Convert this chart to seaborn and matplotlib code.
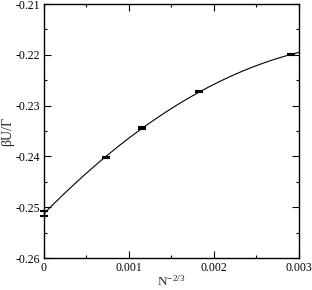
import numpy as np
import pandas as pd
import matplotlib
matplotlib.use("Agg")
import matplotlib.pyplot as plt
import seaborn as sns
from matplotlib.ticker import MultipleLocator

# data: x = N^(-2/3), y = beta U / Gamma
x_vals = [0.0, 0.000725, 0.001151, 0.001828, 0.002902]
y_vals = [-0.2512, -0.2402, -0.2344, -0.2273, -0.21995]
y_err = [0.0005, 0.00015, 0.00012, 0.0001, 0.0001]

x_ticks = [0.0, 0.001, 0.002, 0.003]
x_labels = ["0", "0.001", "0.002", "0.003"]
y_ticks = [-0.26, -0.25, -0.24, -0.23, -0.22, -0.21]
y_labels = ["-0.26", "-0.25", "-0.24", "-0.23", "-0.22", "-0.21"]

data = pd.DataFrame({"x": x_vals, "y": y_vals, "err": y_err})

sns.set_style("ticks")
plt.rcParams["font.family"] = ["Liberation Serif", "DejaVu Serif"]
plt.rcParams["mathtext.fontset"] = "stix"

fig = plt.figure(figsize=(3.12, 2.90), dpi=100)
ax = fig.add_axes([0.141, 0.110, 0.817, 0.876])
ax.set_xlim(0, 0.003)
ax.set_ylim(-0.26, -0.21)

# quadratic fit through the points, drawn over the full x range
sns.regplot(data=data, x="x", y="y", order=2, ci=None, scatter=False,
            truncate=False, ax=ax, line_kws={"color": "black", "lw": 0.8})

ax.errorbar(data["x"], data["y"], yerr=data["err"], fmt="none",
            ecolor="black", elinewidth=1.0, capsize=3, capthick=1.5,
            clip_on=False)

ax.set_xlim(0, 0.003)
ax.set_ylim(-0.26, -0.21)
ax.set_xticks(x_ticks, x_labels)
ax.set_yticks(y_ticks, y_labels)
ax.xaxis.set_minor_locator(MultipleLocator(0.0005))
ax.yaxis.set_minor_locator(MultipleLocator(0.005))

ax.tick_params(which="both", direction="in", top=True, right=True,
               labelsize=8.5, width=0.8, colors="black")
ax.tick_params(which="major", length=5, pad=3)
ax.tick_params(which="minor", length=2.5)
for s in ax.spines.values():
    s.set_linewidth(1.0)
    s.set_color("black")

ax.set_xlabel(r"N$^{\mathregular{-2/3}}$", fontsize=9.5, labelpad=0)
ax.set_ylabel("βU/Γ", fontsize=10, labelpad=1)

fig.savefig("out.png", dpi=100)
